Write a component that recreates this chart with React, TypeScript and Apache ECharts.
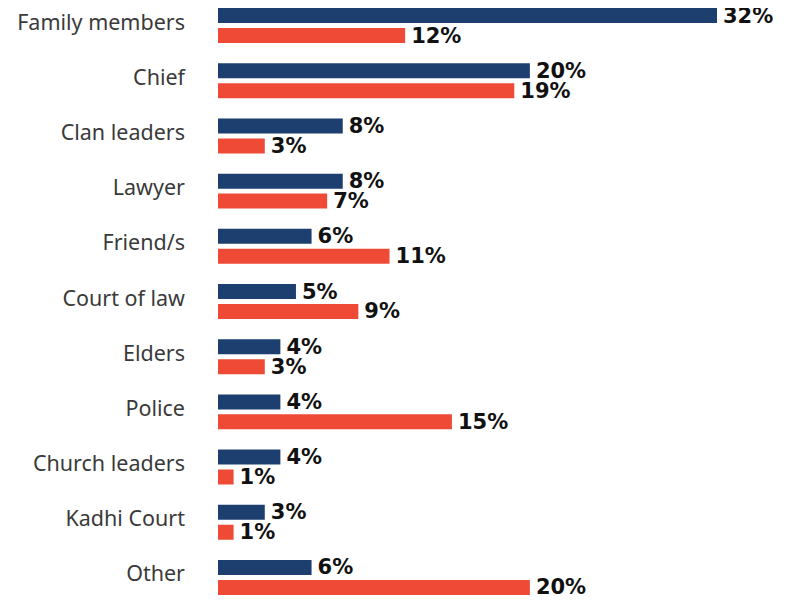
import React, { useEffect, useRef } from "react";
import * as echarts from "echarts";

const categories = [
  "Family members",
  "Chief",
  "Clan leaders",
  "Lawyer",
  "Friend/s",
  "Court of law",
  "Elders",
  "Police",
  "Church leaders",
  "Kadhi Court",
  "Other",
];
const seriesA = [32, 20, 8, 8, 6, 5, 4, 4, 4, 3, 6];
const seriesB = [12, 19, 3, 7, 11, 9, 3, 15, 1, 1, 20];

export default function App() {
  const ref = useRef<HTMLDivElement>(null);
  useEffect(() => {
    if (!ref.current) return;
    const chart = echarts.init(ref.current, null, { renderer: "svg" });
    const label = {
      show: true,
      position: "right" as const,
      distance: 6,
      formatter: "{c}%",
      color: "#111",
      fontFamily: "DejaVu Sans",
      fontWeight: "bold" as const,
      fontSize: 21,
      lineHeight: 16,
    };
    chart.setOption({
      animation: false,
      grid: { left: 210, top: 0, width: 499, height: 607 },
      xAxis: {
        type: "value",
        min: 0,
        max: 32,
        show: false,
      },
      yAxis: {
        type: "category",
        data: categories,
        inverse: true,
        axisLine: { show: false },
        axisTick: { show: false },
        axisLabel: {
          margin: 33,
          formatter: (v: string) => `{a|${v}}`,
          rich: {
            a: {
              color: "#3a3a3a",
              fontFamily: "Noto Sans",
              fontSize: 21.5,
              padding: [0, 0, 9, 0],
            },
          },
        },
      },
      series: [
        {
          type: "bar",
          data: seriesA,
          barWidth: 15,
          barGap: "33%",
          itemStyle: { color: "#1c3f70" },
          label,
        },
        {
          type: "bar",
          data: seriesB,
          barWidth: 15,
          itemStyle: { color: "#ef4a35" },
          label,
        },
      ],
    });
    return () => chart.dispose();
  }, []);
  return <div ref={ref} style={{ width: 785, height: 610, marginTop: -10 }} />;
}
